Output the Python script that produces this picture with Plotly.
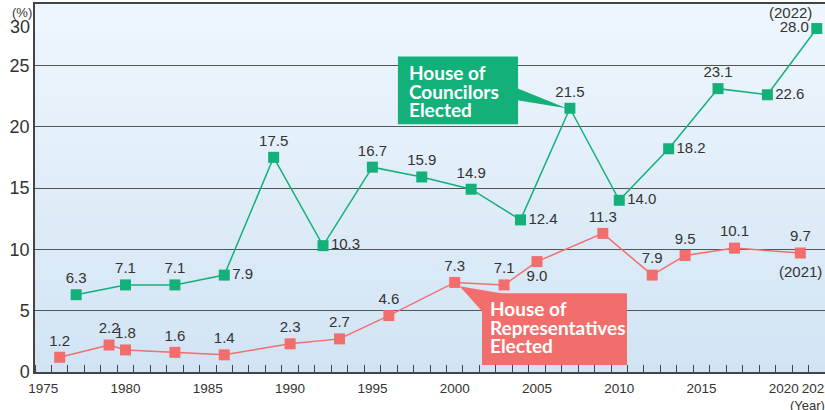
import plotly.graph_objects as go

# ---- data ----
coun_years = [1977, 1980, 1983, 1986, 1989, 1992, 1995, 1998, 2001, 2004, 2007, 2010, 2013, 2016, 2019, 2022]
coun_vals = [6.3, 7.1, 7.1, 7.9, 17.5, 10.3, 16.7, 15.9, 14.9, 12.4, 21.5, 14.0, 18.2, 23.1, 22.6, 28.0]
coun_pos = ["top center", "top center", "top center", "middle right", "top center", "middle right",
            "top center", "top center", "top center", "middle right", "top center", "middle right",
            "middle right", "top center", "middle right", "middle left"]

rep_years = [1976, 1979, 1980, 1983, 1986, 1990, 1993, 1996, 2000, 2003, 2005, 2009, 2012, 2014, 2017, 2021]
rep_vals = [1.2, 2.2, 1.8, 1.6, 1.4, 2.3, 2.7, 4.6, 7.3, 7.1, 9.0, 11.3, 7.9, 9.5, 10.1, 9.7]
rep_pos = ["top center"] * 10 + ["bottom center"] + ["top center"] * 5

x_tickvals = [1975, 1980, 1985, 1990, 1995, 2000, 2005, 2010, 2015, 2020, 2022]
x_ticktext = ["1975", "1980", "1985", "1990", "1995", "2000", "2005", "2010", "2015", "2020", "2022"]
y_tickvals = [0, 5, 10, 15, 20, 25, 30]
y_ticktext = ["0", "5", "10", "15", "20", "25", ""]

coun_label_lines = ["House of", "Councilors", "Elected"]
rep_label_lines = ["House of", "Representatives", "Elected"]

GREEN = "#13b07a"
RED = "#f26e6c"
TXT = "#333333"
SANS = "Liberation Sans, Arial, sans-serif"
LABEL_FONT = dict(family=SANS, size=15, color=TXT)

fig = go.Figure()

fig.add_trace(go.Scatter(
    x=coun_years, y=coun_vals, mode="lines+markers+text",
    text=[f"{v:.1f}" for v in coun_vals], textposition=coun_pos, textfont=LABEL_FONT,
    line=dict(color=GREEN, width=1.5),
    marker=dict(symbol="square", size=11, color=GREEN),
    cliponaxis=False, showlegend=False, hoverinfo="x+y"))

fig.add_trace(go.Scatter(
    x=rep_years, y=rep_vals, mode="lines+markers+text",
    text=[f"{v:.1f}" for v in rep_vals], textposition=rep_pos, textfont=LABEL_FONT,
    line=dict(color=RED, width=1.5),
    marker=dict(symbol="square", size=11, color=RED),
    cliponaxis=False, showlegend=False, hoverinfo="x+y"))

shapes = []
# vertical gradient background
n = 40
top = (238, 246, 253)
bot = (210, 228, 244)
for i in range(n):
    t = i / (n - 1)
    c = tuple(round(top[k] + (bot[k] - top[k]) * t) for k in range(3))
    shapes.append(dict(type="rect", xref="paper", yref="paper", x0=0, x1=1,
                       y0=1 - (i + 1) / n, y1=1 - i / n + 0.001,
                       fillcolor=f"rgb{c}", line=dict(width=0), layer="below"))

# callout boxes
shapes.append(dict(type="rect", xref="x", yref="y", x0=1996.55, x1=2003.85, y0=20.2, y1=25.73,
                   fillcolor=GREEN, line=dict(width=0), layer="between"))
shapes.append(dict(type="path", xref="x", yref="y",
                   path="M 2003.8 23.13 L 2006.8 21.5 L 2003.8 22.15 Z",
                   fillcolor=GREEN, line=dict(width=0), layer="between"))
shapes.append(dict(type="rect", xref="x", yref="y", x0=2001.66, x1=2010.47, y0=0.57, y1=6.43,
                   fillcolor=RED, line=dict(width=0), layer="between"))
shapes.append(dict(type="path", xref="x", yref="y",
                   path="M 2002.9 6.4 L 2000.3 7.0 L 2001.7 4.9 Z",
                   fillcolor=RED, line=dict(width=0), layer="between"))

BOX_FONT = dict(family="Lato, Roboto, sans-serif", size=19, color="white")
annotations = []
for line, yv in zip(coun_label_lines, [24.43, 22.88, 21.42]):
    annotations.append(dict(x=1997.1, y=yv, xref="x", yref="y", xanchor="left", yanchor="middle",
                            text=f"<b>{line}</b>", showarrow=False, font=BOX_FONT))
for line, yv in zip(rep_label_lines, [5.21, 3.6, 2.2]):
    annotations.append(dict(x=2002.0, y=yv, xref="x", yref="y", xanchor="left", yanchor="middle",
                            text=f"<b>{line}</b>", showarrow=False, font=BOX_FONT))

annotations += [
    dict(x=2022, y=28.0, xref="x", yref="y", xanchor="right", yanchor="middle", xshift=-3, yshift=16,
         text="(2022)", showarrow=False, font=LABEL_FONT),
    dict(x=2021, y=9.7, xref="x", yref="y", xanchor="center", yanchor="top", yshift=-8,
         text="(2021)", showarrow=False, font=LABEL_FONT),
    dict(x=0, y=28.1, xref="paper", yref="y", xanchor="right", yanchor="middle", xshift=-3,
         text="30", showarrow=False, font=dict(family=SANS, size=18, color=TXT)),
    dict(x=0, y=1, xref="paper", yref="paper", xanchor="right", yanchor="middle", xshift=-1, yshift=-8,
         text="(%)", showarrow=False, font=dict(family=SANS, size=13, color=TXT)),
    dict(x=0.953, y=0, xref="paper", yref="paper", xanchor="left", yanchor="top", yshift=-24,
         text="(Year)", showarrow=False, font=dict(family=SANS, size=13, color=TXT)),
]

fig.update_layout(
    width=825, height=410,
    margin=dict(l=35, r=0, t=4, b=38),
    paper_bgcolor="white", plot_bgcolor="#e4eef9",
    shapes=shapes, annotations=annotations,
    showlegend=False,
)

fig.update_xaxes(
    range=[1974.5, 2022.5], tickmode="array", tickvals=x_tickvals, ticktext=x_ticktext,
    ticks="", showgrid=False, zeroline=False, automargin=False, tickangle=0,
    ticklabeloverflow="allow", ticklabelstandoff=3,
    showline=True, linecolor="#444", linewidth=1.5, mirror=True,
    tickfont=dict(family=SANS, size=13.5, color=TXT),
    minor=dict(ticks="inside", tick0=1974.5, dtick=1, ticklen=7, tickcolor="#444", tickwidth=1, showgrid=False),
)
fig.update_yaxes(
    range=[0, 30], tickmode="array", tickvals=y_tickvals, ticktext=y_ticktext,
    ticks="", showgrid=True, gridcolor="#555", gridwidth=1, zeroline=False, automargin=False,
    showline=True, linecolor="#444", linewidth=1.5,
    tickfont=dict(family=SANS, size=18, color=TXT),
)

fig.write_html("out.html", config={"displayModeBar": False},
               post_script="document.body.style.margin='0';")
